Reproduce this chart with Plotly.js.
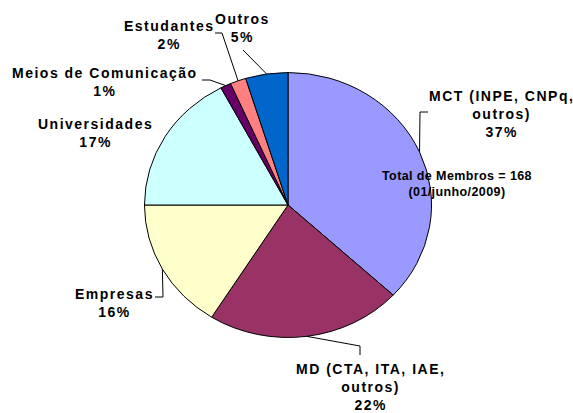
<!DOCTYPE html>
<html>
<head>
<meta charset="utf-8">
<script src="https://cdn.plot.ly/plotly-3.0.1.min.js"></script>
<style>
  html, body { margin: 0; padding: 0; background: #fff; }
  #chart { width: 573px; height: 413px; }
  text[style*="font-size: 14px"] { letter-spacing: 1.5px; }
  text[style*="font-size: 12.5px"] { letter-spacing: 0.4px; }
</style>
</head>
<body>
<div id="chart"></div>
<script>
// ---- data ----
const categories = ["MCT (INPE, CNPq,<br>outros)", "MD (CTA, ITA, IAE,<br>outros)", "Empresas", "Universidades", "Meios de Comunicação", "Estudantes", "Outros"];
const members = [62, 37, 27, 29, 2, 3, 8];
const sliceColors = ["#9999FF", "#993366", "#FFFFCC", "#CCFFFF", "#660066", "#FF8080", "#0066CC"];
const totalText = "Total de Membros = 168<br>(01/junho/2009)";

// ---- layout constants (pixels) ----
const W = 573, H = 413;
const CX = 288, CY = 205, R = 138;
const SX = 1.04, SY = 0.96;   // slight elliptical look of the original
// label centres [x, y] in pixels
const labelPos = [[501, 114], [370, 387], [114, 303], [95, 133], [105, 82], [169, 35], [242, 28]];
// leader-line label-side points (pixels); null = no leader
const leaderPts = [
  [[428, 112], [420, 112]],
  [[360, 355], [360, 346]],
  [[155, 297], [163, 297]],
  null,
  [[202, 80], [210, 80]],
  [[215, 33], [222, 33]],
  [[243, 50]]
];

const px = x => x / W;
const py = y => 1 - y / H;

const total = members.reduce((a, b) => a + b, 0);
const pct = members.map(v => Math.round(100 * v / total) + "%");

// slice mid angles (clockwise from 12 o'clock)
const mids = [];
let cum = 0;
members.forEach(v => {
  mids.push((cum + v / 2) / total * 2 * Math.PI);
  cum += v;
});

const FONT = '"Liberation Sans", Arial, sans-serif';

const annotations = categories.map((c, i) => ({
  xref: "paper", yref: "paper",
  x: px(labelPos[i][0]), y: py(labelPos[i][1]),
  xanchor: "center", yanchor: "middle",
  text: "<b>" + c + "<br>" + pct[i] + "</b>",
  showarrow: false,
  align: "center",
  font: { family: FONT, size: 14, color: "#000", weight: 700 }
}));
annotations.push({
  xref: "paper", yref: "paper",
  x: px(457), y: py(184),
  xanchor: "center", yanchor: "middle",
  text: "<b>" + totalText + "</b>",
  showarrow: false, align: "center",
  font: { family: FONT, size: 12.5, color: "#000", weight: 700 }
});

const shapes = [];
leaderPts.forEach((pts, i) => {
  if (!pts) return;
  const ex = CX + R * SX * Math.sin(mids[i]);
  const ey = CY - R * SY * Math.cos(mids[i]);
  const all = pts.concat([[ex, ey]]);
  const path = all.map((p, k) => (k ? "L" : "M") + px(p[0]) + "," + py(p[1])).join(" ");
  shapes.push({ type: "path", xref: "paper", yref: "paper", path: path, line: { color: "#000", width: 1 } });
});

const trace = {
  type: "pie",
  labels: categories,
  values: members,
  sort: false,
  direction: "clockwise",
  rotation: 0,
  textinfo: "none",
  hoverinfo: "label+percent",
  marker: { colors: sliceColors, line: { color: "#000", width: 1 } },
  domain: { x: [px(CX - R), px(CX + R)], y: [py(CY + R), py(CY - R)] }
};

const layout = {
  width: W, height: H,
  margin: { l: 0, r: 0, t: 0, b: 0 },
  paper_bgcolor: "#fff",
  showlegend: false,
  annotations: annotations,
  shapes: shapes
};

Plotly.newPlot("chart", [trace], layout, { displayModeBar: false, staticPlot: true }).then(gd => {
  const pl = gd.querySelector(".pielayer");
  if (pl) {
    pl.style.transformBox = "view-box";
    pl.style.transformOrigin = CX + "px " + CY + "px";
    pl.style.transform = "scale(" + SX + "," + SY + ")";
    pl.querySelectorAll("path.surface").forEach(p => p.style.vectorEffect = "non-scaling-stroke");
  }
});
</script>
</body>
</html>
